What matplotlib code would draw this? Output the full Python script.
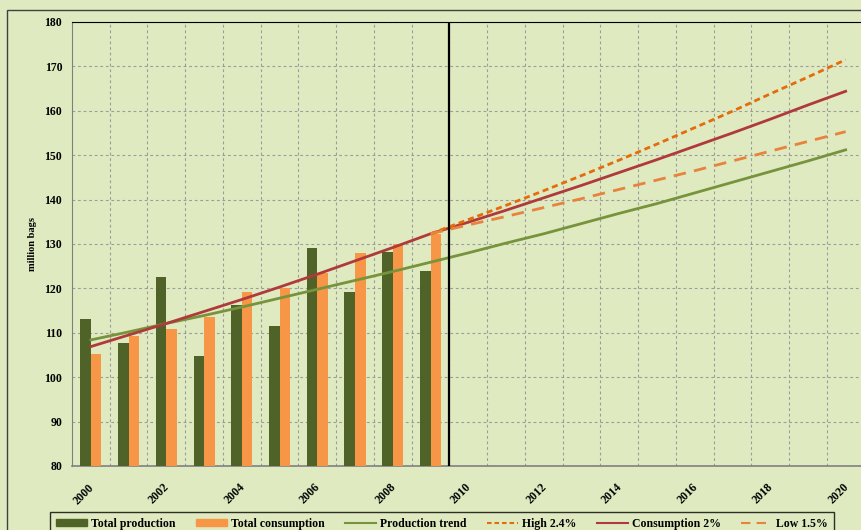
import matplotlib
matplotlib.use("Agg")
import matplotlib.pyplot as plt
from matplotlib.patches import Rectangle, Patch
from matplotlib.lines import Line2D
from matplotlib.transforms import ScaledTranslation
import numpy as np

# categories
years = [str(y) for y in range(2000, 2021)]

# bars (2000-2009), million bags
production = [113.2, 107.8, 122.5, 104.8, 116.2, 111.5, 129.0, 119.3, 128.1, 123.9]
consumption = [105.2, 109.3, 110.9, 113.6, 119.1, 120.0, 123.5, 127.9, 130.0, 132.2]

# trend lines, 2000-2020
production_trend = [108.4, 110.2, 112.1, 113.9, 115.8, 117.8, 119.8, 121.8, 123.8, 125.9,
                    128.0, 130.2, 132.3, 134.6, 136.9, 139.1, 141.5, 143.9, 146.3, 148.7, 151.2]
consumption_2pct = [106.9, 109.5, 112.1, 114.8, 117.5, 120.3, 123.2, 126.2, 129.2, 132.3,
                    134.9, 137.6, 140.4, 143.2, 146.1, 149.0, 152.0, 155.0, 158.1, 161.3, 164.4]

# scenarios, 2009-2020
high_24 = [132.3, 135.5, 138.7, 142.0, 145.4, 148.9, 152.5, 156.2, 159.9, 163.8, 167.6, 171.5]
low_15 = [132.3, 134.3, 136.2, 138.2, 140.2, 142.3, 144.4, 146.5, 148.7, 150.9, 153.1, 155.3]

bg = "#dfeac1"
c_prod = "#4f6228"
c_cons = "#f79646"
c_ptrend = "#77933c"
c_ctrend = "#b0393b"
c_high = "#e46c0a"
c_low = "#e8823c"
c_grid = "#9c9c9c"

plt.rcParams["font.family"] = ["Liberation Serif", "DejaVu Serif"]
plt.rcParams["font.weight"] = "bold"

fig = plt.figure(figsize=(8.61, 5.30), dpi=100, facecolor=bg)
ax = fig.add_axes([72 / 861, 64 / 530, 792.5 / 861, 444 / 530], facecolor=bg)

# outer chart frame
fig.patches.append(Rectangle((7 / 861, -0.1), 1.2, 1 - 10 / 530 + 0.1, transform=fig.transFigure,
                             fill=False, edgecolor="#404040", linewidth=1.0))

x = np.arange(len(years))
xb = x[:len(production)]
w = 0.28
ax.bar(xb - w / 2, production, w, bottom=0, color=c_prod, zorder=3)
ax.bar(xb + w / 2, consumption, w, bottom=0, color=c_cons, zorder=3)

ax.plot(x, production_trend, color=c_ptrend, lw=2, zorder=4)
ax.plot(x, consumption_2pct, color=c_ctrend, lw=2, zorder=4)
xs = x[len(production) - 1:]
ax.plot(xs, high_24, color=c_high, lw=2, dashes=(2.2, 1.4), zorder=4)
ax.plot(xs, low_15, color=c_low, lw=2, dashes=(4.5, 3), zorder=4)

ax.axvline(9.5, color="black", lw=1.6, zorder=5)

ax.set_xlim(-0.5, 20.5)
ax.set_ylim(80, 180)
ax.set_yticks(np.arange(80, 181, 10))
ax.set_xticks(x[::2])
ax.set_xticklabels(years[::2])
ax.set_xticks(np.arange(0.5, 20, 1), minor=True)
ax.tick_params(axis="both", which="both", length=0, labelsize=8.5)
ax.tick_params(axis="y", pad=7)
ax.tick_params(axis="x", pad=11)
shift = ScaledTranslation(-3 / 100, 0, fig.dpi_scale_trans)
for lbl in ax.get_xticklabels():
    lbl.set(rotation=45, ha="right", rotation_mode="anchor")
    lbl.set_transform(lbl.get_transform() + shift)

ax.grid(axis="y", which="major", color=c_grid, ls=(0, (2.5, 2.5)), lw=0.8, zorder=1)
ax.grid(axis="x", which="minor", color=c_grid, ls=(0, (2.5, 2.5)), lw=0.8, zorder=1)
ax.grid(axis="x", which="major", visible=False)

ax.spines["left"].set_color("#808080")
ax.spines["bottom"].set_color("#808080")
ax.spines["bottom"].set_linewidth(1.2)
ax.spines["top"].set_color("black")
ax.spines["right"].set_visible(False)

ax.set_ylabel("million bags", fontsize=7.5, fontweight="bold", labelpad=5)

handles = [
    Patch(color=c_prod), Patch(color=c_cons),
    Line2D([], [], color=c_ptrend, lw=1.5),
    Line2D([], [], color=c_high, lw=1.5, dashes=(2.2, 1.4)),
    Line2D([], [], color=c_ctrend, lw=1.5),
    Line2D([], [], color=c_low, lw=1.5, dashes=(4.5, 3)),
]
labels = ["Total production", "Total consumption", "Production trend",
          "High 2.4%", "Consumption 2%", "Low 1.5%"]
leg = fig.legend(handles, labels, loc="upper left", bbox_to_anchor=(50 / 861, 1 - 512 / 530),
                 ncol=6, frameon=True, fancybox=False, facecolor=bg, edgecolor="black",
                 fontsize=8.5, handlelength=2.6, handleheight=0.5, columnspacing=1.75,
                 handletextpad=0.35, borderpad=0.5, borderaxespad=0)
leg.get_frame().set_linewidth(1.0)

fig.savefig("out.png", dpi=100, facecolor=bg)
